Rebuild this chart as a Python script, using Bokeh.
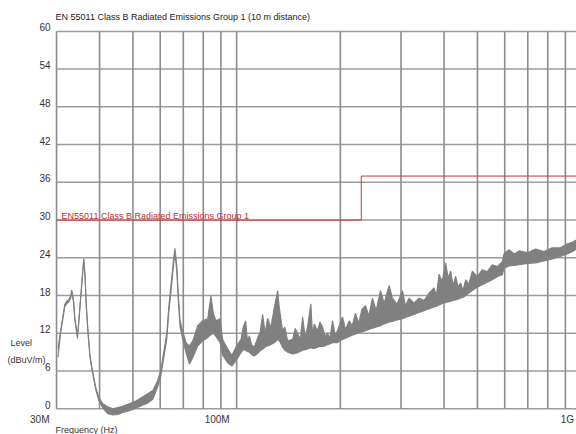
import numpy as np
from bokeh.plotting import figure
from bokeh.models import Range1d, Label, LabelSet, ColumnDataSource
from bokeh.core.properties import value
from bokeh.embed import file_html
from bokeh.resources import INLINE

# ---- data ----
freq_mhz = [30.3, 30.8, 31.3, 31.7, 32.1, 32.6, 33.0, 33.2, 33.6, 33.9, 34.3, 34.5, 34.8, 35.3, 35.8, 36.0,
            36.3, 36.6, 37.0, 37.5, 38.0, 38.5, 39.0, 39.8, 40.9, 42.3, 43.7, 45.2, 46.7, 48.3, 49.9, 51.6,
            53.4, 55.2, 57.1, 59.0, 60.2, 61.7, 62.7, 63.5, 64.5, 65.5, 66.2, 67.0, 67.8, 68.5, 69.7, 71.3,
            72.9, 74.6, 77.1, 79.7, 82.4, 84.2, 85.6, 87.1, 89.5, 91.1, 94.2, 96.9, 99.5, 102.9, 104.5, 106.2,
            107.5, 108.9, 110.5, 112.5, 115.1, 117.0, 119.0, 121.0, 123.0, 125.7, 128.6, 131.5, 133.0, 135.9,
            138.0, 140.6, 145.3, 148.0, 150.3, 153.0, 155.4, 158.0, 160.6, 164.2, 166.0, 168.0, 171.7, 174.5,
            177.5, 180.5, 183.6, 186.5, 189.8, 193.0, 196.2, 199.5, 202.9, 207.0, 212.2, 216.5, 221.3, 226.0,
            231.0, 236.6, 242.0, 247.9, 254.0, 261.5, 268.0, 277.1, 283.3, 292.0, 302.9, 309.0, 316.7, 327.0,
            338.6, 350.0, 362.0, 374.1, 380.0, 386.8, 395.0, 404.3, 411.0, 418.0, 425.0, 432.2, 439.0, 446.8,
            454.0, 462.0, 472.0, 483.1, 499.0, 516.4, 534.0, 552.1, 571.0, 590.2, 596.9, 617.2, 640.0, 659.8,
            700.0, 737.1, 780.0, 824.1, 870.0, 911.1, 945.0, 980.0]
level_lo = [8.2, 11.8, 14.3, 16.2, 16.7, 17.0, 17.6, 18.5, 17.0, 14.1, 12.2, 11.2, 13.5, 17.8, 22.1, 23.5,
            20.9, 16.2, 12.2, 8.2, 6.2, 4.6, 3.0, 1.3, 0.1, -0.8, -1.0, -0.9, -0.6, -0.4, -0.1, 0.2,
            0.6, 0.9, 1.5, 3.5, 5.1, 8.7, 11.1, 15.1, 18.7, 22.6, 24.7, 21.9, 16.7, 13.0, 11.1, 8.9,
            7.1, 8.1, 10.0, 10.8, 11.3, 11.8, 12.0, 11.5, 10.5, 8.5, 7.3, 6.8, 7.6, 8.9, 9.4, 9.3,
            9.1, 9.0, 8.6, 8.4, 8.8, 9.2, 9.5, 9.8, 10.0, 10.2, 10.5, 11.0, 10.8, 9.8,
            9.3, 9.0, 8.7, 8.8, 8.9, 9.1, 9.3, 9.4, 9.5, 9.7, 9.6, 9.6, 9.8, 9.9,
            9.9, 10.0, 10.2, 10.3, 10.5, 10.5, 10.5, 10.8, 11.0, 11.2, 11.5, 11.7, 11.9, 12.1,
            12.2, 12.4, 12.6, 12.8, 13.0, 13.2, 13.5, 13.8, 13.9, 14.1, 14.3, 14.5, 14.7, 15.0,
            15.3, 15.6, 15.9, 16.2, 16.3, 16.5, 16.7, 16.9, 17.0, 17.1, 17.2, 17.3, 17.4, 17.6,
            17.7, 18.0, 18.4, 18.8, 19.3, 19.7, 20.1, 20.5, 21.0, 21.3, 22.3, 22.7, 22.8, 22.9,
            23.1, 23.2, 23.5, 23.8, 24.2, 24.6, 25.0, 25.6]
level_hi = [9.6, 12.2, 14.7, 16.6, 17.1, 17.4, 18.0, 18.9, 17.4, 14.5, 12.6, 11.6, 13.9, 18.2, 22.5, 23.9,
            21.3, 16.6, 12.6, 8.6, 6.6, 5.0, 3.4, 1.8, 0.8, 0.3, 0.0, 0.2, 0.4, 0.7, 1.0, 1.4,
            1.9, 2.4, 2.9, 4.5, 6.1, 9.7, 12.1, 16.1, 19.7, 23.5, 25.5, 22.9, 17.7, 14.0, 12.4, 10.5,
            10.0, 10.8, 13.2, 14.0, 14.3, 18.0, 15.1, 14.0, 14.3, 11.0, 9.5, 8.5, 9.8, 11.0, 13.0, 14.0,
            10.8, 11.6, 10.2, 9.8, 11.3, 12.2, 15.0, 12.0, 14.4, 12.9, 16.1, 18.8, 16.1, 12.4,
            13.0, 10.8, 11.0, 12.8, 12.0, 11.0, 14.6, 11.5, 13.0, 16.7, 11.8, 13.5, 12.4, 13.8,
            13.0, 11.5, 12.0, 11.2, 14.0, 11.8, 12.4, 13.5, 14.6, 12.6, 14.0, 13.2, 15.2, 13.6,
            15.8, 16.4, 14.8, 17.6, 15.6, 18.8, 16.8, 19.6, 17.6, 16.6, 18.8, 16.4, 17.6, 16.8,
            17.6, 17.2, 18.4, 19.2, 18.0, 21.4, 20.2, 23.2, 20.8, 21.9, 19.6, 21.1, 19.4, 20.0,
            18.8, 20.5, 19.8, 21.9, 21.0, 22.1, 21.8, 22.9, 22.6, 23.4, 24.6, 25.3, 24.6, 25.1,
            24.8, 25.4, 25.0, 25.6, 25.6, 26.2, 26.5, 27.0]

limit_freq_mhz = [30, 230, 230, 1000]
limit_level = [30, 30, 37, 37]

grid_freq_mhz = [30, 40, 50, 60, 70, 80, 90, 100, 200, 300, 400, 500, 600, 700, 800, 900, 1000]
y_ticks = [0, 6, 12, 18, 24, 30, 36, 42, 48, 54, 60]
x_tick_mhz = [30, 100, 1000]
x_tick_labels = ["30M", "100M", "1G"]
y_min, y_max = 0, 60
f_min_mhz, f_max_mhz = 30, 1000

title_text = "EN 55011 Class B Radiated Emissions Group 1 (10 m distance)"
limit_text = "EN55011 Class B Radiated Emissions Group 1"

FONT = "Liberation Sans"
MHZ = 1e6

# The plotting frame covers the whole canvas, so every text can live inside it
p = figure(width=576, height=434, x_axis_type="log",
           x_range=Range1d(20.63e6, 969.4e6), y_range=Range1d(-4.09, 64.91),
           output_backend="svg", toolbar_location=None,
           min_border_left=0, min_border_right=0, min_border_top=0, min_border_bottom=0)
p.outline_line_color = None
p.background_fill_color = "white"
p.border_fill_color = "white"
p.axis.visible = False
p.grid.visible = False

# grid
gx = np.array(grid_freq_mhz) * MHZ
p.segment(x0=[f_min_mhz * MHZ] * len(y_ticks), y0=y_ticks, x1=[f_max_mhz * MHZ] * len(y_ticks), y1=y_ticks,
          line_color="#9c9c9c", line_width=1.5)
p.segment(x0=gx, y0=[y_min] * len(gx), x1=gx, y1=[y_max] * len(gx), line_color="#8c8c8c", line_width=1.6)

# measured trace
f = np.array(freq_mhz) * MHZ
p.varea(x=f, y1=level_lo, y2=level_hi, fill_color="#808080")
p.line(f, level_hi, line_color="#808080", line_width=1.1)
p.line(f, level_lo, line_color="#808080", line_width=1.1)

# limit line
p.line(np.array(limit_freq_mhz) * MHZ, limit_level, line_color="#cc3333", line_width=1)

p.add_layout(Label(x=f_min_mhz * MHZ, y=30, x_offset=5, y_offset=4, text=limit_text, text_font=FONT,
                   text_font_size="9px", text_color="#c03030", text_baseline="alphabetic"))

p.add_layout(Label(x=f_min_mhz * MHZ, y=y_max, x_offset=-1, y_offset=14, text=title_text, text_font=FONT,
                   text_font_size="9px", text_color="#222222", text_baseline="middle"))

p.add_layout(Label(x=f_min_mhz * MHZ, y=10.4, x_offset=-46, text="Level", text_font=FONT,
                   text_font_size="9px", text_color="#333333", text_baseline="middle"))
p.add_layout(Label(x=f_min_mhz * MHZ, y=7.7, x_offset=-49, text="(dBuV/m)", text_font=FONT,
                   text_font_size="9px", text_color="#333333", text_baseline="middle"))

p.add_layout(Label(x=f_min_mhz * MHZ, y=y_min, x_offset=-1, y_offset=-16, text="Frequency (Hz)", text_font=FONT,
                   text_font_size="9px", text_color="#333333", text_baseline="top"))

# tick labels
xsrc = ColumnDataSource(dict(x=np.array(x_tick_mhz) * MHZ, y=[y_min] * len(x_tick_mhz), t=x_tick_labels))
p.add_layout(LabelSet(x="x", y="y", text="t", source=xsrc, x_offset=-7, y_offset=-11,
                      text_align="right", text_baseline="middle", text_font=value(FONT),
                      text_font_size="10px", text_color="#333333"))
ysrc = ColumnDataSource(dict(x=[f_min_mhz * MHZ] * len(y_ticks), y=y_ticks, t=[str(v) for v in y_ticks]))
p.add_layout(LabelSet(x="x", y="y", text="t", source=ysrc, x_offset=-6, y_offset=4,
                      text_align="right", text_baseline="middle", text_font=value(FONT),
                      text_font_size="10px", text_color="#333333"))

open("out.html", "w").write(file_html(p, INLINE))
